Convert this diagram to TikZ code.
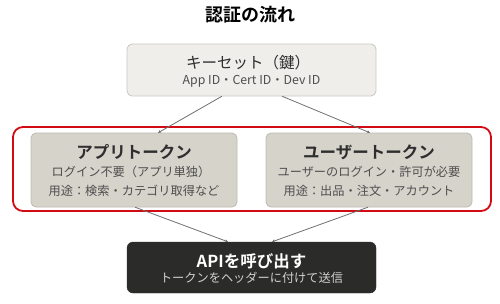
\documentclass[tikz,border=0pt]{standalone}
\usepackage{fontspec}
\setmainfont{Noto Sans CJK JP}
\newfontfamily\jpbold{Noto Sans CJK JP Bold}
\usetikzlibrary{arrows.meta,calc}
\definecolor{keyfill}{HTML}{EFEEEA}
\definecolor{keyline}{HTML}{C9C7C0}
\definecolor{tokfill}{HTML}{D6D3CB}
\definecolor{tokline}{HTML}{BEBBB3}
\definecolor{redline}{HTML}{D20A14}
\definecolor{apifill}{HTML}{2B2B29}
\definecolor{maintext}{HTML}{2E2E2E}
\definecolor{subtext}{HTML}{4E4E4E}
\definecolor{conn}{HTML}{707070}
\tikzset{
  x=1pt,y=-1pt,
  keybox/.style={draw=keyline,fill=keyfill,rounded corners=5pt,line width=0.8pt},
  tokbox/.style={draw=tokline,fill=tokfill,rounded corners=5pt,line width=0.8pt},
  apibox/.style={draw=apifill,fill=apifill,rounded corners=6pt},
  grp/.style={draw=redline,line width=1.8pt,rounded corners=10pt},
  lbl/.style={inner sep=0pt,anchor=center},
  conn/.style={draw=conn,line width=0.8pt,-{Stealth[length=3pt,width=3pt]}}
}
\begin{document}
\begin{tikzpicture}
\useasboundingbox (0,0) rectangle (500,303);
\node[lbl,font=\jpbold\fontsize{18}{20}\selectfont,text=black] (title) at (250,15) {認証の流れ};
% key box
\path[keybox] (127,44) rectangle (376,96);
\node[minimum width=249pt,minimum height=52pt,inner sep=0pt] (key) at (251.5,70) {};
\node[lbl,font=\fontsize{15.5}{17}\selectfont,text=maintext] (keyh) at (248,63) {キーセット（鍵）};
\node[lbl,font=\fontsize{12.3}{14}\selectfont,text=subtext] (keys) at (251.5,81) {App ID・Cert ID・Dev ID};
% group
\path[grp] (13,127) rectangle (491,211);
\node[minimum width=478pt,minimum height=84pt,inner sep=0pt] (group) at (252,169) {};
% app token
\path[tokbox] (31,133) rectangle (237,207);
\node[minimum width=206pt,minimum height=74pt,inner sep=0pt] (app) at (134,170) {};
\node[lbl,font=\jpbold\fontsize{16.5}{18}\selectfont,text=maintext] (apph) at (134,152) {アプリトークン};
\node[lbl,font=\fontsize{12.2}{14}\selectfont,text=subtext] (apps1) at (131,172) {ログイン不要（アプリ単独）};
\node[lbl,font=\fontsize{12.2}{14}\selectfont,text=subtext] (apps2) at (134,191) {用途：検索・カテゴリ取得など};
% user token
\path[tokbox] (266,133) rectangle (472,207);
\node[minimum width=206pt,minimum height=74pt,inner sep=0pt] (user) at (369,170) {};
\node[lbl,font=\jpbold\fontsize{16.5}{18}\selectfont,text=maintext] (userh) at (369,152) {ユーザートークン};
\node[lbl,font=\fontsize{12.2}{14}\selectfont,text=subtext] (users1) at (369,172) {ユーザーのログイン・許可が必要};
\node[lbl,font=\fontsize{12.2}{14}\selectfont,text=subtext] (users2) at (369,191) {用途：出品・注文・アカウント};
% api box
\path[apibox] (127,242) rectangle (376,293);
\node[minimum width=249pt,minimum height=51pt,inner sep=0pt] (api) at (251.5,267.5) {};
\node[lbl,font=\jpbold\fontsize{16.5}{18}\selectfont,text=white] (apih) at (251.5,261) {APIを呼び出す};
\node[lbl,font=\fontsize{12.2}{14}\selectfont,text=white!82!black] (apis) at (251.5,278) {トークンをヘッダーに付けて送信};
% connectors
\draw[conn] ($(key.south)+(-29.5,0)$) -- ($(app.north)+(24,0)$);
\draw[conn] ($(key.south)+(30.5,0)$) -- ($(user.north)+(1,0)$);
\draw[conn] ($(app.south)+(1,0)$) -- ($(api.north)+(-23.5,0)$);
\draw[conn] ($(user.south)+(-1,0)$) -- ($(api.north)+(20.5,0)$);
\end{tikzpicture}
\end{document}
